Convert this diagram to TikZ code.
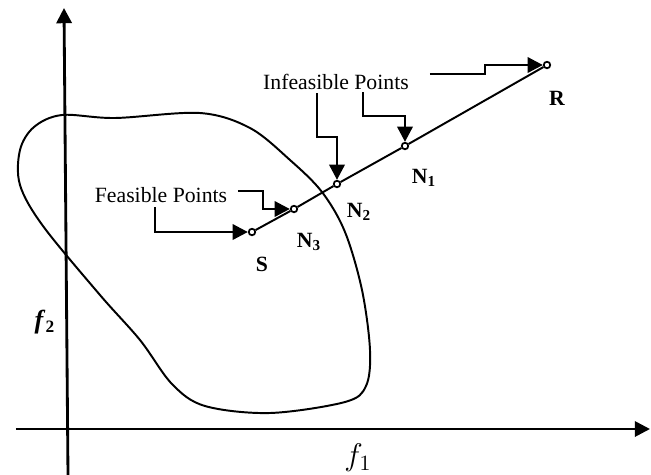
\documentclass[tikz,border=0pt]{standalone}
\usepackage{fontspec}
\setmainfont{Liberation Serif}
\usetikzlibrary{arrows.meta,calc}
\tikzset{
  pfaxis/.style={-{Triangle[length=7pt,width=7pt]}, line width=1.3pt},
  pfarrow/.style={-{Triangle[length=7pt,width=7pt]}, line width=1.3pt},
  pfregion/.style={line width=0.9pt},
  pfline/.style={line width=0.9pt},
  pfpoint/.style={circle, draw, fill=white, line width=0.8pt, inner sep=0pt, minimum size=3pt},
  pflabel/.style={font=\bfseries, inner sep=1pt},
  pfnote/.style={inner sep=1pt}
}

\begin{document}
\begin{tikzpicture}[x=0.46pt, y=-0.46pt]
  \useasboundingbox (0,0) rectangle (651,475);
  % axes
  \coordinate (xstart) at (16,429);
  \coordinate (xend) at (650,429);
  \coordinate (ystart) at (68,475);
  \coordinate (yend) at (64,8);
  \draw[pfaxis] (xstart) -- (xend);
  \draw[pfaxis] (ystart) -- (yend);
  \node[font=\Large] (f1) at (358,458) {$f_1$};
  \node[font=\large] (f2) at (45,322) {\textbf{\textit{f}}\textsubscript{\textbf{2}}};
  % feasible region
  \draw[pfregion] plot[smooth cycle, tension=0.55] coordinates {
    (62,115) (115,118) (200,113) (250,128) (290,160) (322,192) (345,232)
    (362,290) (370,350) (366,386) (345,402) (270,413) (205,406) (172,384)
    (140,340) (100,295) (43,226) (20,185) (20,150) (34,127)};
  % points on the search line
  \node[pfpoint] (S) at (252,232) {};
  \node[pfpoint] (N3) at (294,209) {};
  \node[pfpoint] (N2) at (337,184) {};
  \node[pfpoint] (N1) at (405,146) {};
  \node[pfpoint] (R) at (547,65) {};
  \draw[pfline] (S) -- (N3) -- (N2) -- (N1) -- (R);
  \node[pflabel] (lS) at (262,264) {S};
  \node[pflabel] (lN3) at (309,242) {N\textsubscript{3}};
  \node[pflabel] (lN2) at (359,212) {N\textsubscript{2}};
  \node[pflabel] (lN1) at (424,178) {N\textsubscript{1}};
  \node[pflabel] (lR) at (557,98) {R};
  % notes
  \node[pfnote] (infeas) at (336,82) {Infeasible Points};
  \node[pfnote] (feas) at (161,195) {Feasible Points};
  \coordinate (inf1) at (317,93);
  \coordinate (inf2) at (363,92);
  \coordinate (inf3) at (430,74);
  \coordinate (fea1) at (238,191);
  \coordinate (fea2) at (155,207);
  \draw[pfarrow] (inf1) |- ($(N2)+(0,-47)$) -- (N2);
  \draw[pfarrow] (inf2) |- ($(N1)+(0,-30)$) -- (N1);
  \draw[pfarrow] (inf3) -- ++(55,0) |- (R);
  \draw[pfarrow] (fea1) -- ++(25,0) |- (N3);
  \draw[pfarrow] (fea2) |- (S);
\end{tikzpicture}
\end{document}
